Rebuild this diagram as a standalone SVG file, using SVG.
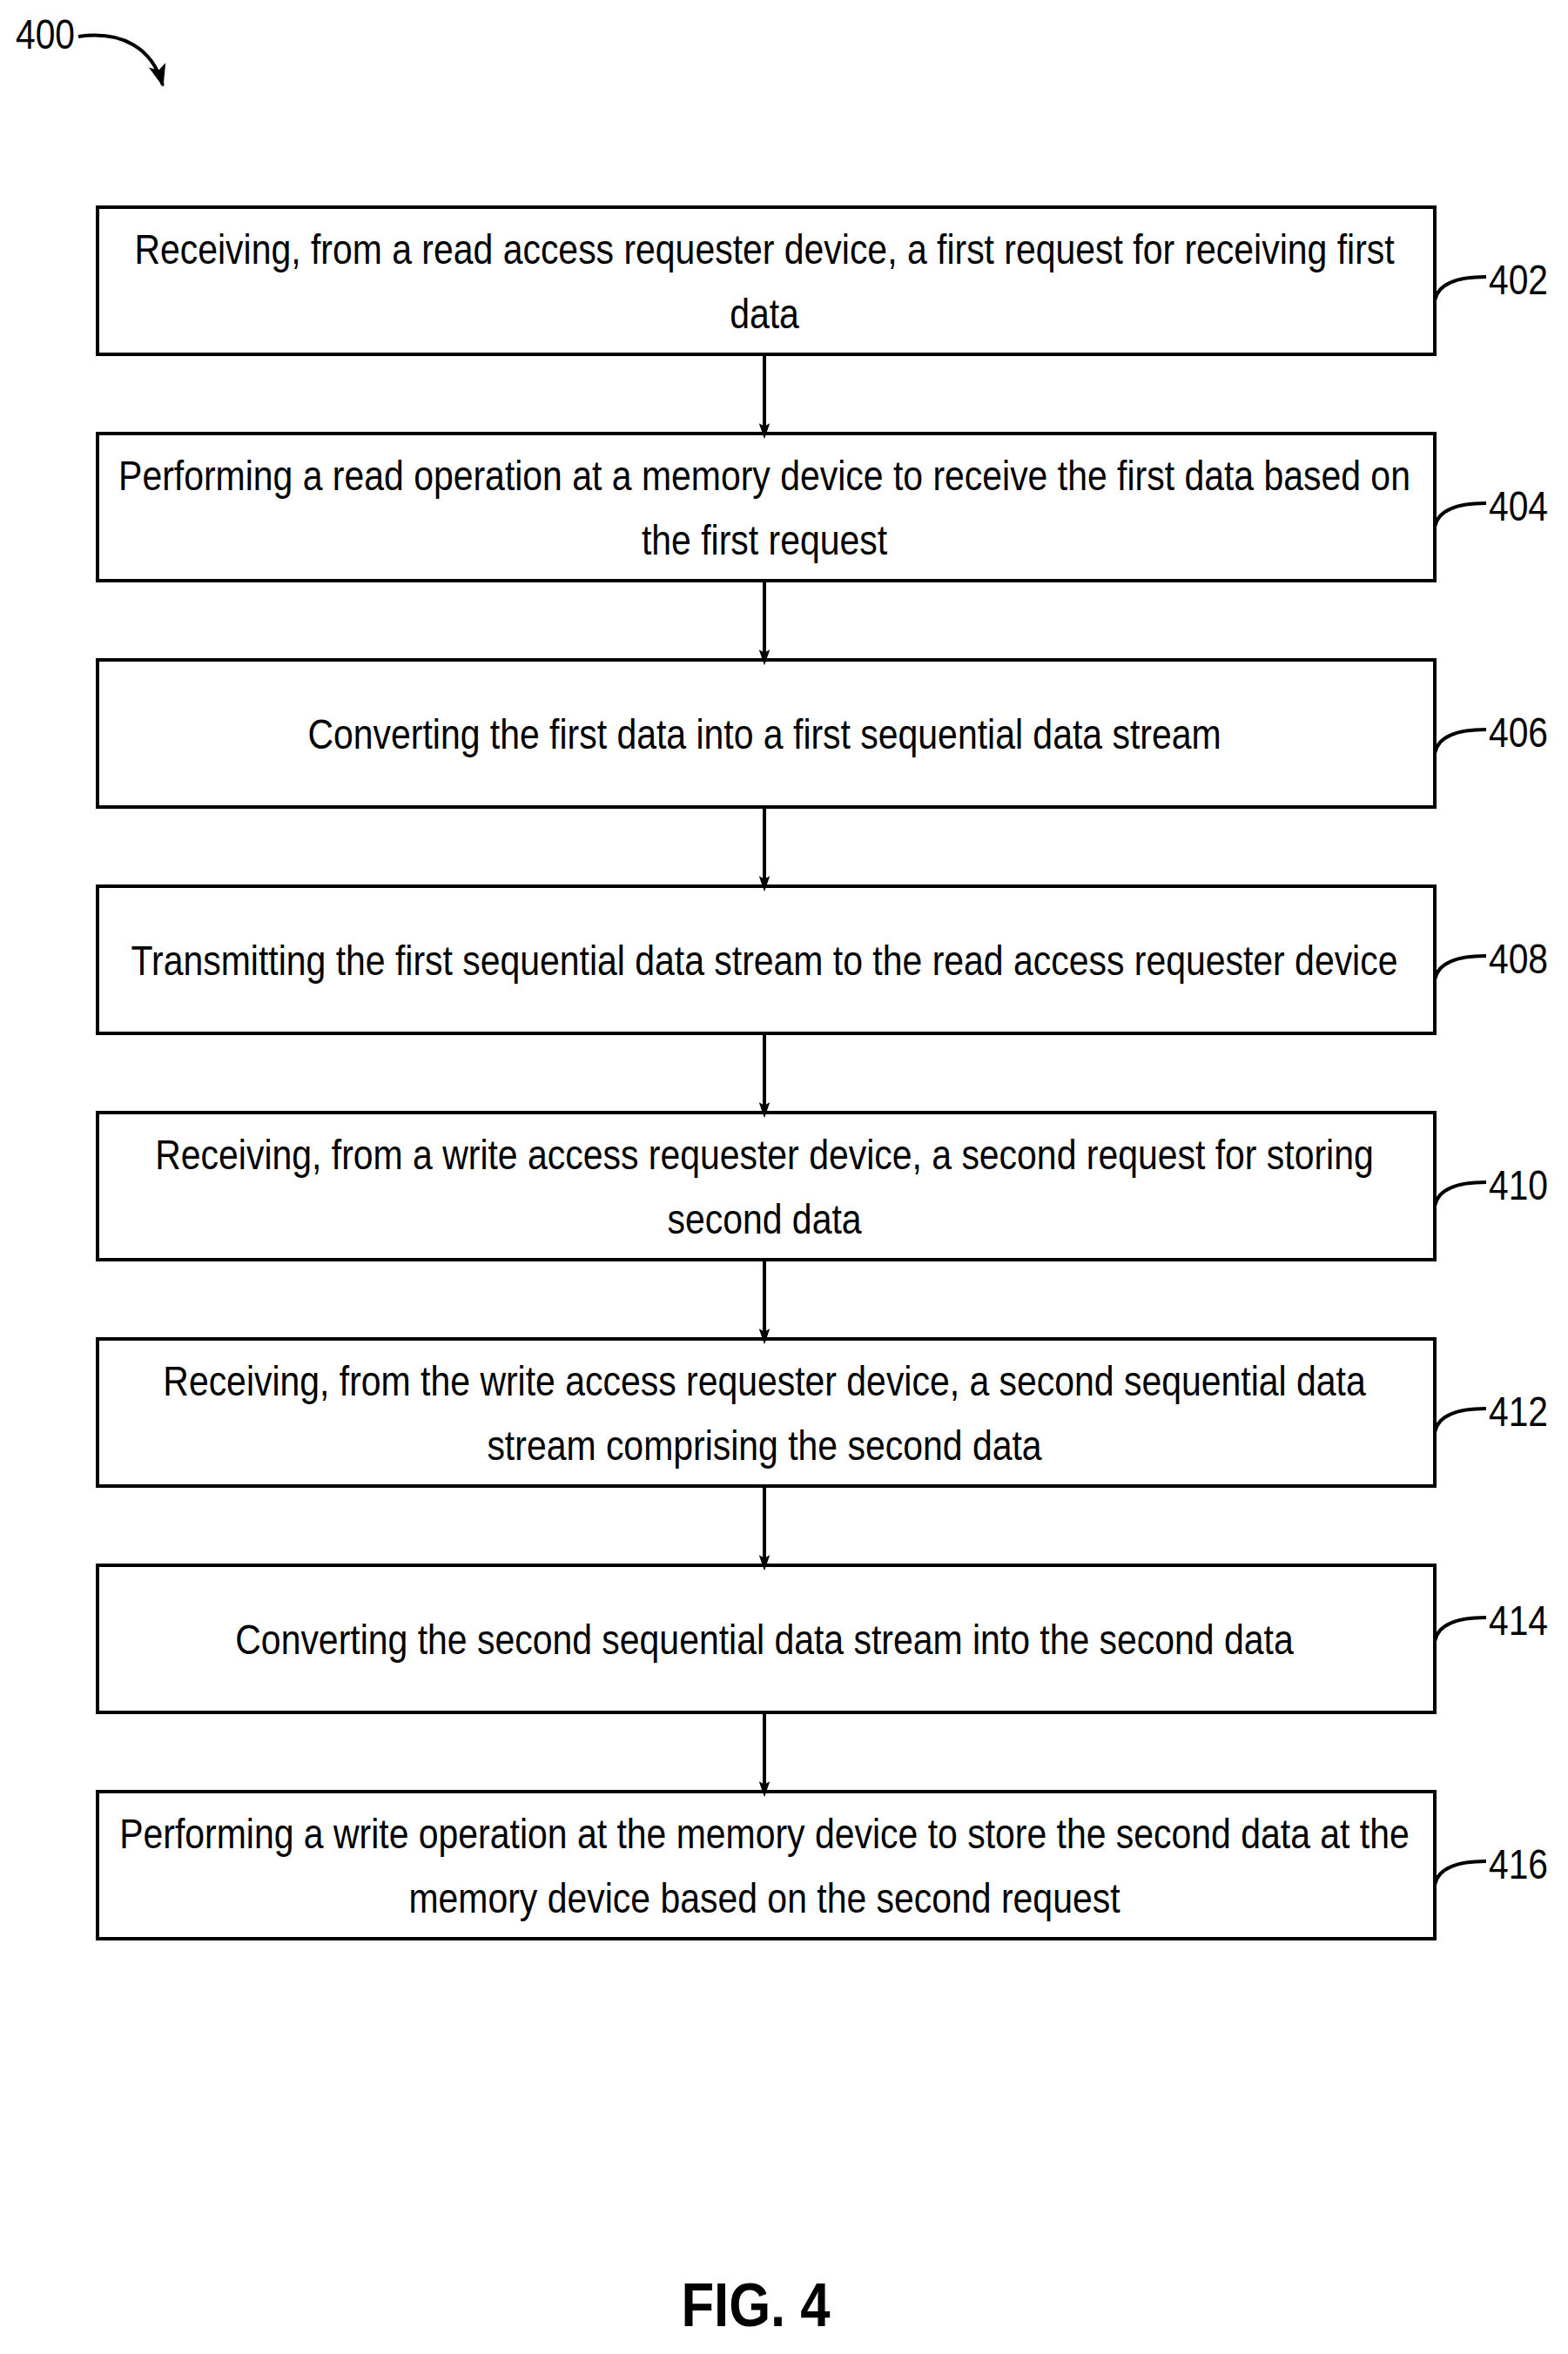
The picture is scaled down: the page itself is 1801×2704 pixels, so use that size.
<svg xmlns="http://www.w3.org/2000/svg" width="1801" height="2704" viewBox="0 0 1801 2704">
<style>
.box{fill:#fff;stroke:#000;stroke-width:4}
.t{font-family:"Liberation Sans",Arial,sans-serif;font-size:48px;text-anchor:middle;fill:#000}
.lb{font-family:"Liberation Sans",Arial,sans-serif;font-size:48px;fill:#000}
.ld{fill:none;stroke:#000;stroke-width:4}
.c{stroke:#000;stroke-width:4;fill:none;marker-end:url(#ah)}
</style>
<defs><marker id="ah" markerWidth="18" markerHeight="26" refX="17" refY="9" orient="auto" markerUnits="userSpaceOnUse" viewBox="0 0 26 18"><path d="M0,0 L26,9 L0,18 L5,9 Z" fill="#000"/></marker>
<marker id="ah2" markerWidth="26" markerHeight="26" refX="24" refY="10" orient="auto" markerUnits="userSpaceOnUse" viewBox="0 0 26 20"><path d="M0,0 L26,10 L0,20 L6,10 Z" fill="#000"/></marker></defs>
<g id="title"><g transform="translate(18,0) scale(0.85,1)"><text class="lb" x="0" y="56">400</text></g><path d="M90,42 C140,35 175,55 187,98" fill="none" stroke="#000" stroke-width="4" marker-end="url(#ah2)"/></g>
<g id="n402"><rect class="box" x="112" y="238" width="1536" height="169"/><g transform="translate(878,0) scale(0.853,1)"><text class="t" x="0" y="303">Receiving, from a read access requester device, a first request for receiving first</text><text class="t" x="0" y="377">data</text></g><path class="ld" d="M1648,345 C1652,325 1675,318 1707,318"/><g transform="translate(1710,0) scale(0.85,1)"><text class="lb" x="0" y="338">402</text></g></g>
<g id="n404"><rect class="box" x="112" y="498" width="1536" height="169"/><g transform="translate(878,0) scale(0.853,1)"><text class="t" x="0" y="563">Performing a read operation at a memory device to receive the first data based on</text><text class="t" x="0" y="637">the first request</text></g><path class="ld" d="M1648,605 C1652,585 1675,578 1707,578"/><g transform="translate(1710,0) scale(0.85,1)"><text class="lb" x="0" y="598">404</text></g></g>
<g id="n406"><rect class="box" x="112" y="758" width="1536" height="169"/><g transform="translate(878,0) scale(0.853,1)"><text class="t" x="0" y="860">Converting the first data into a first sequential data stream</text></g><path class="ld" d="M1648,865 C1652,845 1675,838 1707,838"/><g transform="translate(1710,0) scale(0.85,1)"><text class="lb" x="0" y="858">406</text></g></g>
<g id="n408"><rect class="box" x="112" y="1018" width="1536" height="169"/><g transform="translate(878,0) scale(0.853,1)"><text class="t" x="0" y="1120">Transmitting the first sequential data stream to the read access requester device</text></g><path class="ld" d="M1648,1125 C1652,1105 1675,1098 1707,1098"/><g transform="translate(1710,0) scale(0.85,1)"><text class="lb" x="0" y="1118">408</text></g></g>
<g id="n410"><rect class="box" x="112" y="1278" width="1536" height="169"/><g transform="translate(878,0) scale(0.853,1)"><text class="t" x="0" y="1343">Receiving, from a write access requester device, a second request for storing</text><text class="t" x="0" y="1417">second data</text></g><path class="ld" d="M1648,1385 C1652,1365 1675,1358 1707,1358"/><g transform="translate(1710,0) scale(0.85,1)"><text class="lb" x="0" y="1378">410</text></g></g>
<g id="n412"><rect class="box" x="112" y="1538" width="1536" height="169"/><g transform="translate(878,0) scale(0.853,1)"><text class="t" x="0" y="1603">Receiving, from the write access requester device, a second sequential data</text><text class="t" x="0" y="1677">stream comprising the second data</text></g><path class="ld" d="M1648,1645 C1652,1625 1675,1618 1707,1618"/><g transform="translate(1710,0) scale(0.85,1)"><text class="lb" x="0" y="1638">412</text></g></g>
<g id="n414"><rect class="box" x="112" y="1798" width="1536" height="169"/><g transform="translate(878,0) scale(0.853,1)"><text class="t" x="0" y="1900">Converting the second sequential data stream into the second data</text></g><path class="ld" d="M1648,1885 C1652,1865 1675,1858 1707,1858"/><g transform="translate(1710,0) scale(0.85,1)"><text class="lb" x="0" y="1878">414</text></g></g>
<g id="n416"><rect class="box" x="112" y="2058" width="1536" height="169"/><g transform="translate(878,0) scale(0.853,1)"><text class="t" x="0" y="2123">Performing a write operation at the memory device to store the second data at the</text><text class="t" x="0" y="2197">memory device based on the second request</text></g><path class="ld" d="M1648,2165 C1652,2145 1675,2138 1707,2138"/><g transform="translate(1710,0) scale(0.85,1)"><text class="lb" x="0" y="2158">416</text></g></g>
<g id="connectors">
<path class="c" d="M878,407 V498"/><path class="c" d="M878,667 V758"/><path class="c" d="M878,927 V1018"/><path class="c" d="M878,1187 V1278"/><path class="c" d="M878,1447 V1538"/><path class="c" d="M878,1707 V1798"/><path class="c" d="M878,1967 V2058"/>
</g>
<g transform="translate(868,0) scale(0.88,1)"><text x="0" y="2672" style="font-family:'Liberation Sans',Arial,sans-serif;font-size:70px;font-weight:bold;text-anchor:middle">FIG. 4</text></g>
</svg>
